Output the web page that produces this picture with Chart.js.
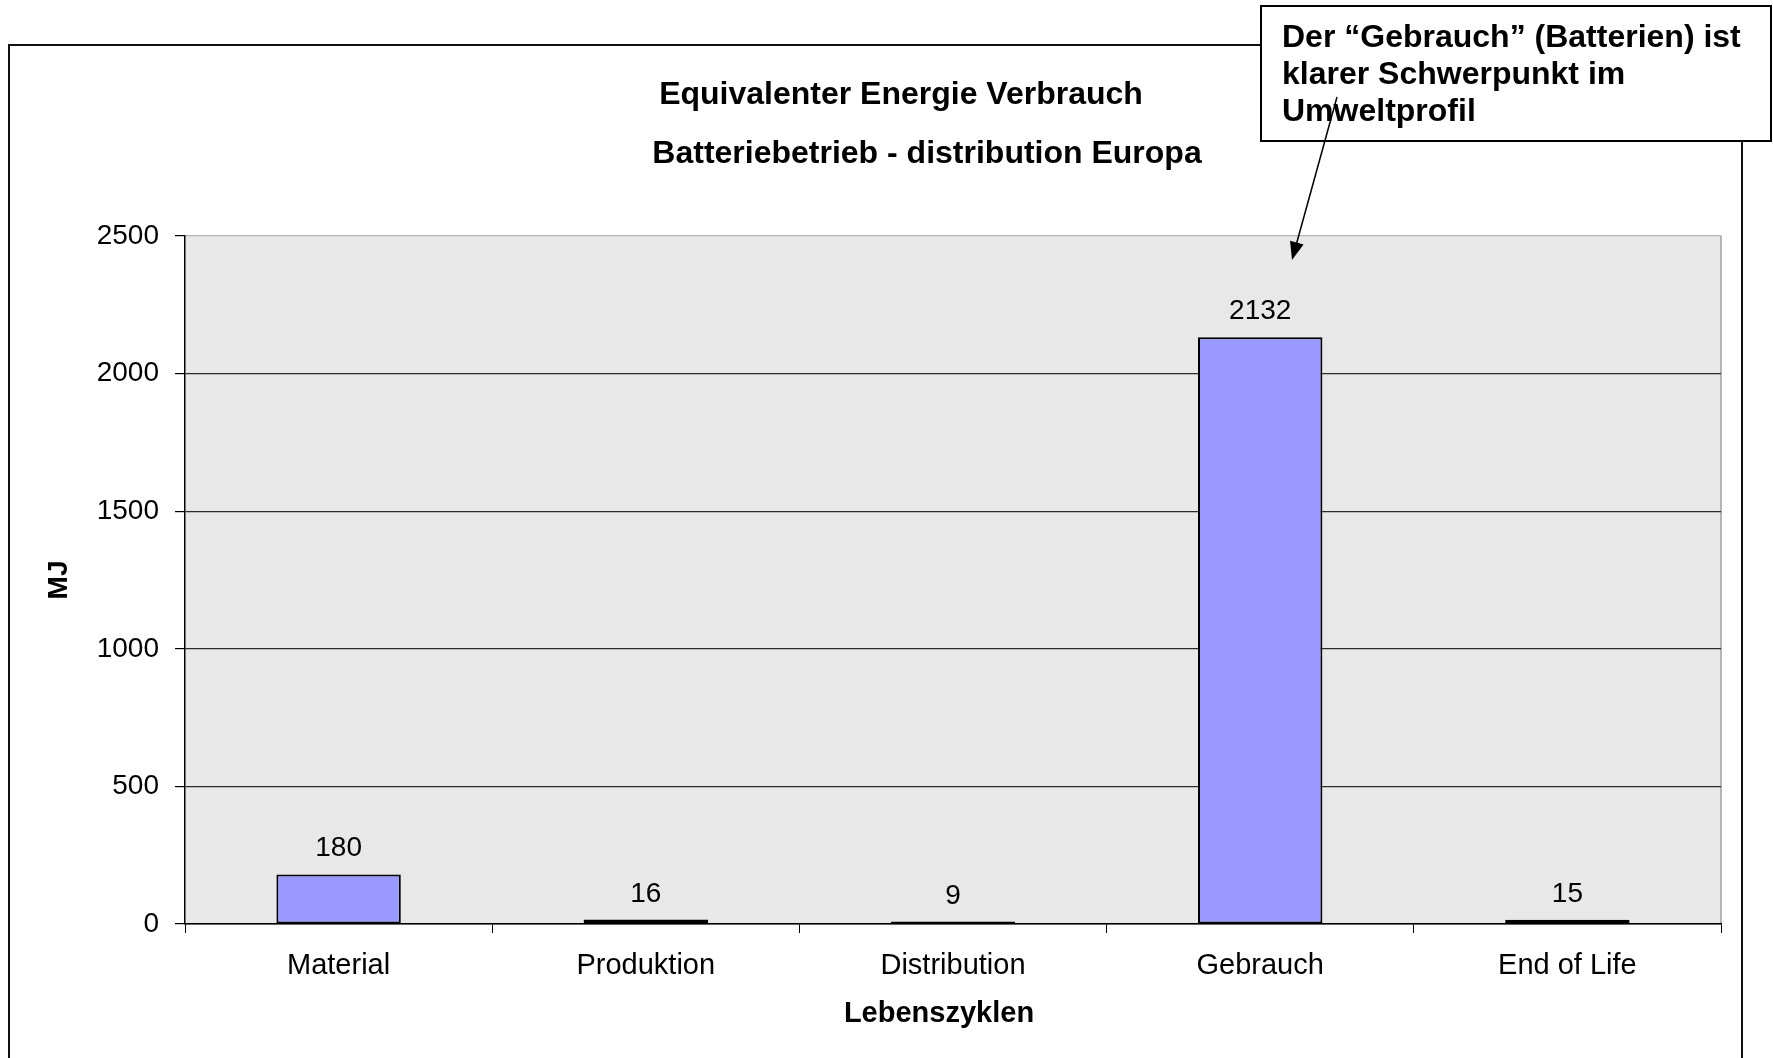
<!DOCTYPE html>
<html lang="de">
<head>
<meta charset="utf-8">
<title>Equivalenter Energie Verbrauch</title>
<script src="https://cdn.jsdelivr.net/npm/chart.js@4/dist/chart.umd.min.js"></script>
<style>
  html, body { margin: 0; padding: 0; background: #fff; }
  #wrap { width: 1773px; height: 1058px; }
</style>
</head>
<body>
<div id="wrap"><canvas id="energyChart" width="1773" height="1058"></canvas></div>
<script>
// Datos
const categories = ['Material', 'Produktion', 'Distribution', 'Gebrauch', 'End of Life'];
const values = [180, 16, 9, 2132, 15];
const yTicks = [0, 500, 1000, 1500, 2000, 2500];
const titleLines = ['Equivalenter Energie Verbrauch', 'Batteriebetrieb - distribution Europa'];
const noteLines = ['Der \u201cGebrauch\u201d (Batterien) ist', 'klarer Schwerpunkt im', 'Umweltprofil'];
const axisTitleX = 'Lebenszyklen';
const axisTitleY = 'MJ';

document.addEventListener("DOMContentLoaded", function () {

  const FONT = "'Liberation Sans', Arial, sans-serif";
  Chart.defaults.font.family = FONT;
  Chart.defaults.color = '#000';

  // Plugin para fondo, marcos, títulos, etiquetas de valor y la nota
  const decor = {
    id: 'decor',
    beforeDraw(chart) {
      const c = chart.ctx;
      const a = chart.chartArea;
      c.save();
      c.fillStyle = '#fff';
      c.fillRect(0, 0, chart.width, chart.height);
      // marco exterior
      c.strokeStyle = '#111';
      c.lineWidth = 2;
      c.strokeRect(9, 45, 1733, 1100);
      // fondo del área de trazado
      c.fillStyle = '#e8e8e8';
      c.fillRect(a.left, a.top, a.right - a.left, a.bottom - a.top);
      c.strokeStyle = '#b4b4b4';
      c.beginPath();
      c.moveTo(a.right, a.top);
      c.lineTo(a.right, a.bottom);
      c.stroke();
      // títulos
      c.fillStyle = '#000';
      c.font = 'bold 32px ' + FONT;
      c.textAlign = 'center';
      c.textBaseline = 'middle';
      c.fillText(titleLines[0], 901, 95);
      c.fillText(titleLines[1], 927, 154);
      // título del eje X (un poco a la izquierda del centro, como el original)
      c.font = 'bold 29px ' + FONT;
      c.fillText(axisTitleX, 939, 1014);
      c.restore();
    },
    afterDatasetsDraw(chart) {
      const c = chart.ctx;
      const meta = chart.getDatasetMeta(0);
      c.save();
      c.fillStyle = '#000';
      c.font = '28px ' + FONT;
      c.textAlign = 'center';
      c.textBaseline = 'alphabetic';
      meta.data.forEach((bar, i) => {
        c.fillText(String(values[i]), bar.x, bar.y - 18);
      });
      c.restore();
    },
    afterDraw(chart) {
      const c = chart.ctx;
      c.save();
      // cuadro de la nota
      c.fillStyle = '#fff';
      c.fillRect(1260, 5, 512, 137);
      c.strokeStyle = '#000';
      c.lineWidth = 2;
      c.strokeRect(1261, 6, 510, 135);
      c.fillStyle = '#000';
      c.font = 'bold 32px ' + FONT;
      c.textAlign = 'left';
      c.textBaseline = 'middle';
      noteLines.forEach((line, i) => c.fillText(line, 1282, 38 + 37 * i));
      // flecha hacia la barra "Gebrauch"
      const x0 = 1337, y0 = 97, x1 = 1292, y1 = 260;
      const ang = Math.atan2(y1 - y0, x1 - x0);
      c.lineWidth = 1.5;
      c.beginPath();
      c.moveTo(x0, y0);
      c.lineTo(x1 - 14 * Math.cos(ang), y1 - 14 * Math.sin(ang));
      c.stroke();
      c.beginPath();
      c.moveTo(x1, y1);
      c.lineTo(x1 - 18 * Math.cos(ang) + 7 * Math.sin(ang), y1 - 18 * Math.sin(ang) - 7 * Math.cos(ang));
      c.lineTo(x1 - 18 * Math.cos(ang) - 7 * Math.sin(ang), y1 - 18 * Math.sin(ang) + 7 * Math.cos(ang));
      c.closePath();
      c.fill();
      c.restore();
    }
  };

  const ctx = document.getElementById('energyChart').getContext('2d');

  let chart = new Chart(ctx, {
    type: 'bar',
    data: {
      labels: categories,
      datasets: [{
        label: axisTitleY,
        data: values,
        backgroundColor: '#9999ff',
        borderColor: '#000',
        borderWidth: 2,
        borderSkipped: false,
        barPercentage: 0.405,
        categoryPercentage: 1
      }]
    },
    options: {
      responsive: false,
      animation: false,
      layout: { padding: { top: 236, right: 52, left: 10, bottom: 24 } },
      plugins: {
        legend: { display: false },
        tooltip: { enabled: false }
      },
      scales: {
        x: {
          grid: { drawOnChartArea: false, tickLength: 9, tickColor: '#000', offset: true },
          border: { color: '#000', width: 1.5 },
          ticks: { font: { size: 29 }, padding: 16, color: '#000', maxRotation: 0, autoSkip: false },
          afterFit(scale) { scale.height = 110; }
        },
        y: {
          min: 0,
          max: 2500,
          afterBuildTicks(scale) { scale.ticks = yTicks.map(v => ({ value: v })); },
          grid: {
            color: (c) => (c.tick && c.tick.value === 2500 ? '#b4b4b4' : '#2a2a2a'),
            lineWidth: 1.2,
            tickLength: 10,
            tickColor: '#000'
          },
          border: { color: '#000', width: 1.5 },
          ticks: { font: { size: 28 }, padding: 16, color: '#000', callback: (v) => String(v) },
          title: { display: true, text: axisTitleY, font: { size: 28, weight: 'bold' }, padding: { top: 32, bottom: 0 } },
          afterFit(scale) { scale.width = 175; }
        }
      }
    },
    plugins: [decor]
  });

});
</script>
</body>
</html>
